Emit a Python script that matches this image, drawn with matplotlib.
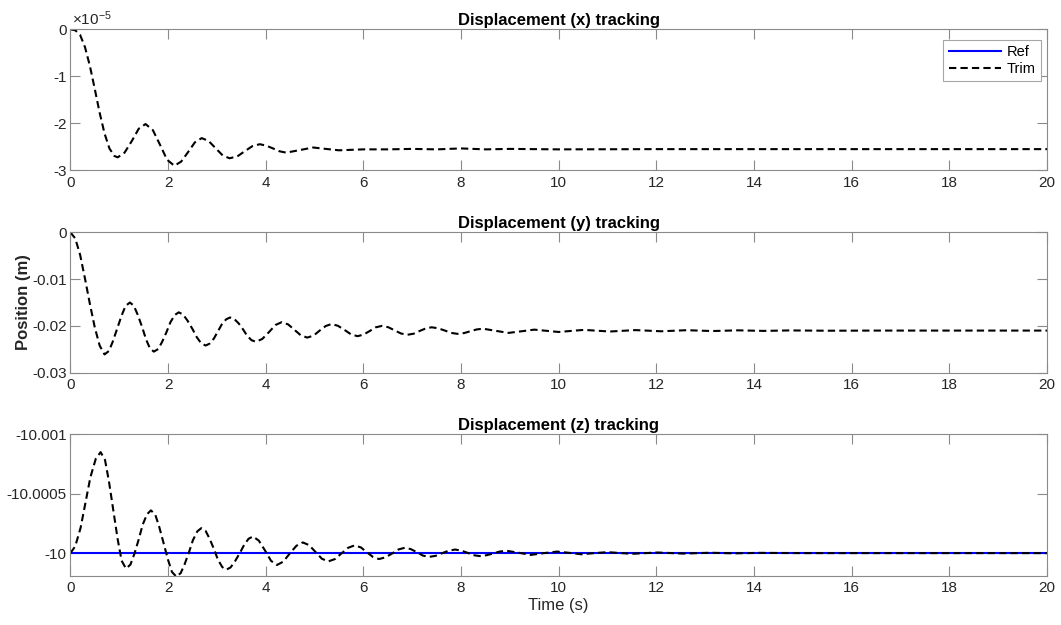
import matplotlib
matplotlib.use("Agg")
import matplotlib.pyplot as plt
import numpy as np

plt.rcParams["font.family"] = ["Liberation Sans", "DejaVu Sans"]
plt.rcParams["mathtext.fontset"] = "custom"
plt.rcParams["mathtext.rm"] = "Liberation Sans"
plt.rcParams["axes.unicode_minus"] = False

# ---- data ----
# x displacement (units of 1e-5 m)
t_x = [0, 0.1, 0.2, 0.3, 0.4, 0.5, 0.6, 0.7, 0.8, 0.9, 0.97,
       1.11, 1.26, 1.40, 1.54, 1.69, 1.84, 1.98, 2.13,
       2.27, 2.41, 2.55, 2.69, 2.83, 2.98, 3.12, 3.26,
       3.42, 3.57, 3.73, 3.88, 4.01, 4.15, 4.28, 4.42,
       4.70, 4.97, 5.23, 5.50, 6.0, 6.5, 7.0, 7.5, 8.0, 8.5, 9.0,
       10.0, 12.0, 14.0, 16.0, 18.0, 20.0]
x_trim_e5 = [0, -0.02, -0.12, -0.38, -0.78, -1.27, -1.78, -2.22, -2.54, -2.70, -2.73,
             -2.63, -2.38, -2.12, -2.02, -2.15, -2.47, -2.78, -2.91,
             -2.82, -2.62, -2.41, -2.32, -2.38, -2.54, -2.69, -2.75,
             -2.71, -2.60, -2.49, -2.45, -2.48, -2.54, -2.60, -2.63,
             -2.575, -2.52, -2.55, -2.58, -2.56, -2.56, -2.55, -2.56, -2.54, -2.56, -2.55,
             -2.56, -2.555, -2.555, -2.555, -2.555, -2.555]

# y displacement (mm)
t_y = [0, 0.1, 0.2, 0.3, 0.4, 0.5, 0.6, 0.70,
       0.79, 0.87, 0.96, 1.05, 1.13, 1.22,
       1.30, 1.38, 1.47, 1.55, 1.63, 1.71,
       1.80, 1.88, 1.97, 2.05, 2.14, 2.22,
       2.31, 2.40, 2.50, 2.59, 2.68, 2.77,
       2.85, 2.94, 3.02, 3.10, 3.19, 3.27,
       3.36, 3.45, 3.54, 3.62, 3.71, 3.80,
       3.93, 4.07, 4.20, 4.33,
       4.46, 4.59, 4.72, 4.85,
       4.98, 5.10, 5.23, 5.35,
       5.48, 5.62, 5.75, 5.88,
       6.00, 6.13, 6.25, 6.38,
       6.51, 6.64, 6.77, 6.90,
       7.03, 7.15, 7.28, 7.40,
       7.53, 7.67, 7.80, 7.93,
       8.06, 8.19, 8.32, 8.45,
       8.71, 8.97, 9.24, 9.50, 9.75, 10.0, 10.26, 10.52, 10.78, 11.05,
       11.31, 11.57, 11.83, 12.1, 12.62, 13.15, 13.67, 14.2, 14.72, 15.5,
       16.5, 18.0, 20.0]
y_trim_mm = [0, -1.3, -4.8, -9.9, -15.3, -20.3, -24.2, -26.1,
             -25.36, -23.33, -20.55, -17.78, -15.74, -15.0,
             -15.7, -17.63, -20.25, -22.88, -24.8, -25.5,
             -24.94, -23.4, -21.3, -19.2, -17.66, -17.1,
             -17.58, -18.88, -20.65, -22.43, -23.73, -24.2,
             -23.8, -22.7, -21.2, -19.7, -18.6, -18.2,
             -18.55, -19.5, -20.8, -22.1, -23.05, -23.4,
             -22.79, -21.3, -19.81, -19.2,
             -19.68, -20.85, -22.02, -22.5,
             -22.08, -21.05, -20.02, -19.6,
             -19.98, -20.9, -21.82, -22.2,
             -21.88, -21.1, -20.32, -20.0,
             -20.28, -20.95, -21.62, -21.9,
             -21.67, -21.1, -20.53, -20.3,
             -20.5, -21.0, -21.5, -21.7,
             -21.54, -21.15, -20.76, -20.6,
             -21.05, -21.5, -21.15, -20.8, -21.05, -21.3, -21.07, -20.85, -21.03, -21.2,
             -21.05, -20.9, -21.02, -21.15, -20.92, -21.1, -20.95, -21.07, -20.97, -21.03,
             -21.0, -21.0, -21.0]

# z displacement: deviation below -10 m (units of 1e-4 m)
t_z = [0, 0.10, 0.21, 0.31, 0.41, 0.52, 0.62,
       0.71, 0.79, 0.88, 0.97, 1.05, 1.14,
       1.23, 1.31, 1.40, 1.48, 1.57, 1.65,
       1.74, 1.82, 1.91, 2.00, 2.08, 2.17,
       2.26, 2.34, 2.43, 2.51, 2.60, 2.68,
       2.77, 2.85, 2.94, 3.02, 3.11, 3.19,
       3.28, 3.37, 3.47, 3.56, 3.65, 3.74,
       3.86, 3.99, 4.11, 4.23,
       4.36, 4.49, 4.63, 4.76,
       4.89, 5.02, 5.15, 5.28,
       5.42, 5.55, 5.69, 5.82,
       5.95, 6.07, 6.20, 6.32,
       6.45, 6.59, 6.72, 6.85,
       6.97, 7.10, 7.22, 7.34,
       7.48, 7.61, 7.75, 7.88,
       8.00, 8.13, 8.25, 8.38,
       8.52, 8.66, 8.79, 8.93,
       9.18, 9.43, 9.70, 9.97, 10.22, 10.47, 10.73, 11.0, 11.25, 11.5,
       11.77, 12.03, 12.55, 13.1, 13.6, 14.1, 15.0, 16.0, 18.0, 20.0]
z_dev_e4 = [0, 0.57, 2.13, 4.25, 6.38, 7.93, 8.5,
            7.84, 6.05, 3.6, 1.15, -0.64, -1.3,
            -0.97, -0.08, 1.15, 2.38, 3.27, 3.6,
            3.23, 2.21, 0.83, -0.56, -1.58, -1.98,
            -1.68, -0.94, 0.08, 1.09, 1.83, 2.1,
            1.87, 1.23, 0.35, -0.53, -1.17, -1.4,
            -1.21, -0.7, 0.0, 0.7, 1.21, 1.4,
            1.05, 0.2, -0.65, -1.0,
            -0.72, -0.05, 0.62, 0.9,
            0.67, 0.1, -0.47, -0.7,
            -0.5, -0.03, 0.45, 0.65,
            0.48, 0.08, -0.33, -0.5,
            -0.36, -0.03, 0.31, 0.45,
            0.34, 0.07, -0.21, -0.32,
            -0.23, -0.01, 0.21, 0.3,
            0.22, 0.03, -0.17, -0.25,
            -0.18, -0.03, 0.13, 0.2,
            0.03, -0.15, 0.0, 0.13, 0.02, -0.1, 0.0, 0.08, 0.01, -0.06,
            0.0, 0.05, -0.04, 0.03, -0.02, 0.02, 0.0, 0.0, 0.0, 0.0]

t_ref = [0, 20]
z_ref = [-10, -10]

titles = ["Displacement (x) tracking", "Displacement (y) tracking", "Displacement (z) tracking"]
x_ticks = list(range(0, 21, 2))

x_trim = np.array(x_trim_e5) * 1e-5
y_trim = np.array(y_trim_mm) * 1e-3
z_trim = -10 - np.array(z_dev_e4) * 1e-4

# ---- style ----
COL_AX = "#8a8a8a"
COL_TXT = "#262626"
DASH = (0, (3.5, 2.0))

fig = plt.figure(figsize=(10.61, 6.25), dpi=100, facecolor="white")
left, width = 0.0663, 0.9205
ax1 = fig.add_axes([left, 0.7280, width, 0.2251])
ax2 = fig.add_axes([left, 0.4037, width, 0.2246])
ax3 = fig.add_axes([left, 0.0789, width, 0.2262])

for ax, title in zip((ax1, ax2, ax3), titles):
    ax.set_xlim(0, 20)
    ax.set_xticks(x_ticks)
    ax.set_xticklabels([str(v) for v in x_ticks])
    ax.tick_params(direction="in", top=True, right=True, length=7, width=0.8,
                   color=COL_AX, labelcolor=COL_TXT, labelsize=11)
    ax.tick_params(axis="x", pad=4)
    ax.tick_params(axis="y", pad=2.5)
    for sp in ax.spines.values():
        sp.set_color(COL_AX)
        sp.set_linewidth(0.8)
    ax.set_title(title, fontsize=12, fontweight="bold", color="black", pad=3)

# top: x
ax1.plot([], [], color="blue", lw=1.5, label="Ref")
ax1.plot(t_x, x_trim, color="black", lw=1.5, linestyle=DASH, label="Trim")
ax1.set_ylim(-3e-5, 0)
ax1.set_yticks([-3e-5, -2e-5, -1e-5, 0])
ax1.set_yticklabels(["-3", "-2", "-1", "0"])
ax1.text(0.002, 1.01, r"$\mathregular{\times10^{-5}}$", transform=ax1.transAxes,
         ha="left", va="bottom", fontsize=11, color=COL_TXT)
leg = ax1.legend(loc="upper right", bbox_to_anchor=(0.9939, 0.9218), borderaxespad=0,
                 fontsize=10.5, handlelength=3.6, handletextpad=0.4, borderpad=0.35,
                 labelspacing=0.2, fancybox=False, framealpha=1)
leg.get_frame().set_edgecolor("#a6a6a6")
leg.get_frame().set_linewidth(0.8)

# middle: y
ax2.plot(t_y, y_trim, color="black", lw=1.5, linestyle=DASH)
ax2.set_ylim(-0.03, 0)
ax2.set_yticks([-0.03, -0.02, -0.01, 0])
ax2.set_yticklabels(["-0.03", "-0.02", "-0.01", "0"])
fig.text(0.022, 0.516, "Position (m)", rotation=90, ha="center", va="center",
         fontsize=12, fontweight="bold", color=COL_TXT)

# bottom: z (reversed axis)
ax3.plot(t_ref, z_ref, color="blue", lw=1.5)
ax3.plot(t_z, z_trim, color="black", lw=1.5, linestyle=DASH)
ax3.set_ylim(-9.99981, -10.001)
ax3.set_yticks([-10.001, -10.0005, -10])
ax3.set_yticklabels(["-10.001", "-10.0005", "-10"])
ax3.set_xlabel("Time (s)", fontsize=12, color=COL_TXT, labelpad=2)

fig.savefig("out.png", dpi=100, facecolor="white")
